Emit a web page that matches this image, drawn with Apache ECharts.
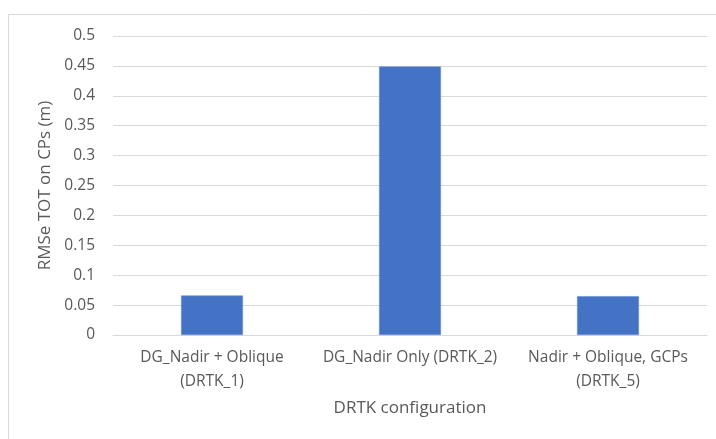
<!DOCTYPE html>
<html><head><meta charset="utf-8">
<script src="https://cdn.jsdelivr.net/npm/echarts@6/dist/echarts.min.js"></script>
<style>html,body{margin:0;padding:0;background:#fff}#c{width:716px;height:439px}</style>
</head><body><div id="c"></div>
<script>
const categories = ['DG_Nadir + Oblique\n(DRTK_1)', 'DG_Nadir Only (DRTK_2)', 'Nadir + Oblique, GCPs\n(DRTK_5)'];
const rmseValues = [0.066, 0.449, 0.065];
const xAxisTitle = 'DRTK configuration';
const yAxisTitle = 'RMSe TOT on CPs (m)';

const chart = echarts.init(document.getElementById('c'), null, {renderer: 'canvas'});
const font = 'Open Sans, Noto Sans, sans-serif';
chart.setOption({
  animation: false,
  graphic: [{
    type: 'rect', shape: {x: 8.5, y: 14.5, width: 720, height: 440},
    style: {fill: 'none', stroke: '#d9d9d9', lineWidth: 1}, silent: true
  }],
  grid: {left: 113, right: 9, top: 36, bottom: 104, containLabel: false},
  xAxis: {
    type: 'category', data: categories,
    axisLine: {lineStyle: {color: '#d9d9d9', width: 1}},
    axisTick: {show: false},
    axisLabel: {color: '#595959', fontFamily: font, fontSize: 15.5, lineHeight: 24, margin: 11, interval: 0},
    name: xAxisTitle, nameLocation: 'middle', nameGap: 65,
    nameTextStyle: {color: '#595959', fontFamily: font, fontSize: 17}
  },
  yAxis: {
    type: 'value', min: 0, max: 0.5, interval: 0.05,
    axisLine: {show: false}, axisTick: {show: false},
    splitLine: {lineStyle: {color: '#d9d9d9', width: 1}},
    axisLabel: {color: '#595959', fontFamily: font, fontSize: 15.5, margin: 18,
      formatter: v => String(parseFloat(v.toFixed(2)))},
    name: yAxisTitle, nameLocation: 'middle', nameGap: 57, nameRotate: 90,
    nameTextStyle: {color: '#595959', fontFamily: font, fontSize: 17}
  },
  series: [{
    type: 'bar', data: rmseValues, barWidth: '31.3%',
    itemStyle: {color: '#4472c4', borderColor: '#6a8fd3', borderWidth: 0.6}
  }]
});
</script></body></html>
